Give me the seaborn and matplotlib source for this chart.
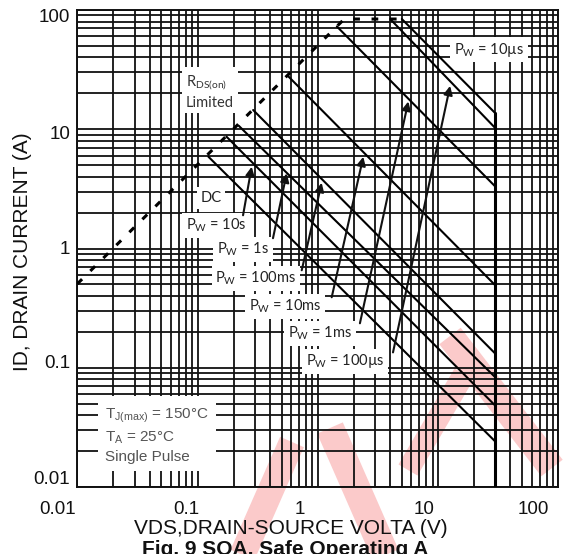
import matplotlib
matplotlib.use("Agg")
import pandas as pd
import matplotlib.pyplot as plt
import seaborn as sns
from matplotlib.lines import Line2D
from matplotlib.ticker import NullFormatter, LogLocator
from matplotlib.transforms import ScaledTranslation

# SOA curves: each starts on the RDS(on) / current limit and ends at VDS max
pw_labels = ["10µs", "100µs", "1ms", "10ms", "100ms", "1s", "10s", "DC"]
v_start = [5.0, 4.0, 1.44, 0.57, 0.29, 0.22, 0.174, 0.123]
i_start = [84, 84, 72.8, 27.7, 14.5, 10.7, 8.67, 5.89]
i_at_vmax = [13.6, 10.2, 3.3, 0.49, 0.131, 0.083, 0.048, 0.024]
vds_max = 30

# RDS(on) limited (dashed)
rds_v = [0.01, 1.66, 5.0]
rds_i = [0.505, 84, 84]

# label centres, arrow tails and arrow tips (V, A)
label_v = [26.5, 1.68, 1.043, 0.534, 0.306, 0.239, 0.142, 0.129]
label_i = [46.4, 0.113, 0.194, 0.327, 0.563, 0.987, 1.57, 2.65]
tail_v = [None, 4.22, 2.24, 1.305, 0.735, 0.424, 0.239, None]
tail_i = [None, 0.1345, 0.236, 0.390, 0.657, 1.22, 1.90, None]
tip_v = [None, 12.6, 5.66, 2.39, 1.077, 0.551, 0.282, None]
tip_i = [None, 23.1, 17.1, 5.88, 3.56, 4.27, 4.85, None]

x_ticks = [0.01, 0.1, 1, 10, 100]
x_ticklabels = ["0.01", "0.1", "1", "10", "100"]
y_ticks = [0.01, 0.1, 1, 10, 100]
y_ticklabels = ["0.01", "0.1", "1", "10", "100"]

sns.set_theme(style="white")
plt.rcParams["font.family"] = ["Liberation Sans", "DejaVu Sans"]
plt.rcParams["mathtext.fontset"] = "custom"

fig = plt.figure(figsize=(5.65, 5.54), dpi=100)
W, H = 565.0, 554.0

# watermark strokes behind the chart (figure pixels, y downwards)
wm = [((292, 442), (242, 556), 26), ((330, 428), (386, 556), 28),
      ((450, 336), (552, 468), 27), ((464, 374), (408, 470), 22)]
for (x0, y0), (x1, y1), w in wm:
    fig.add_artist(Line2D([x0 / W, x1 / W], [1 - y0 / H, 1 - y1 / H],
                          transform=fig.transFigure, color="#fbcaca",
                          lw=w * 0.72, solid_capstyle="butt", zorder=-5))

ax = fig.add_axes([77.3 / W, 1 - 487 / H, 481 / W, 477 / H])
ax.set_facecolor("none")
ax.set_xscale("log")
ax.set_yscale("log")
ax.set_xlim(0.01, 100)
ax.set_ylim(0.01, 100)

# dense log grid like the datasheet
ax.xaxis.set_minor_locator(LogLocator(base=10, subs=range(2, 10), numticks=20))
ax.yaxis.set_minor_locator(LogLocator(base=10, subs=range(2, 10), numticks=20))
ax.xaxis.set_minor_formatter(NullFormatter())
ax.yaxis.set_minor_formatter(NullFormatter())
ax.grid(True, which="both", color="#111111", lw=1.3)
ax.set_axisbelow(True)
for s in ax.spines.values():
    s.set_color("#111111")
    s.set_linewidth(1.4)

ax.set_xticks(x_ticks, labels=x_ticklabels)
ax.set_yticks(y_ticks, labels=y_ticklabels)
ax.tick_params(which="both", length=0, labelsize=13.5, colors="#111111")
ax.tick_params(axis="x", pad=10)
ax.tick_params(axis="y", pad=5)

# scanned labels sit a little off their grid lines
x_off = [-20, -11, -18, -14, -25]
for lab, dx in zip(ax.get_xticklabels(), x_off):
    lab.set_transform(lab.get_transform() + ScaledTranslation(dx / 100, 0, fig.dpi_scale_trans))
y_off = [10, 6, 1, -3, -5]
for lab, dy in zip(ax.get_yticklabels(), y_off):
    lab.set_transform(lab.get_transform() + ScaledTranslation(0, dy / 100, fig.dpi_scale_trans))

# curves
for k in range(len(pw_labels)):
    df = pd.DataFrame({"V": [v_start[k], vds_max], "I": [i_start[k], i_at_vmax[k]]})
    sns.lineplot(data=df, x="V", y="I", ax=ax, color="black", lw=1.5,
                 estimator=None, sort=False, zorder=3)

# VDS max boundary
bound = pd.DataFrame({"V": [vds_max, vds_max], "I": [max(i_at_vmax), 0.01]})
sns.lineplot(data=bound, x="V", y="I", ax=ax, color="black", lw=2.2,
             estimator=None, sort=False, zorder=3)

rds = pd.DataFrame({"V": rds_v, "I": rds_i})
sns.lineplot(data=rds, x="V", y="I", ax=ax, color="black", lw=2.2,
             linestyle=(0, (2.2, 3.8)), estimator=None, sort=False, zorder=3)

lab_font = ["Lato", "DejaVu Sans"]
box = dict(boxstyle="square,pad=0.25", fc="white", ec="none")
for k, name in enumerate(pw_labels):
    txt = "DC" if name == "DC" else "P$_\\mathregular{W}$ = " + name
    ax.text(label_v[k], label_i[k], txt, ha="center", va="center",
            fontsize=10.5, family=lab_font, color="#222222", bbox=box, zorder=4)
    if tail_v[k] is not None:
        ax.annotate("", xy=(tip_v[k], tip_i[k]), xytext=(tail_v[k], tail_i[k]),
                    arrowprops=dict(arrowstyle="-|>", color="#111111", lw=1.5,
                                    mutation_scale=13, shrinkA=0, shrinkB=0),
                    zorder=5)

ax.text(0.0801, 20.6, "R$_\\mathregular{DS(on)}$\nLimited", ha="left", va="center",
        fontsize=10.5, family=lab_font, color="#333333", linespacing=1.3,
        bbox=dict(boxstyle="square,pad=0.25", fc="white", ec="none"), zorder=4)

ax.text(0.017, 0.027, "T$_\\mathregular{J(max)}$ = 150°C\nT$_\\mathregular{A}$ = 25°C\nSingle Pulse",
        ha="left", va="center", fontsize=11, color="#555555", linespacing=1.35,
        bbox=dict(boxstyle="square,pad=0.45", fc="white", ec="none"), zorder=4)

ax.set_xlabel("VDS,DRAIN-SOURCE VOLTA (V)", fontsize=15, color="#111111")
ax.set_ylabel("ID, DRAIN CURRENT (A)", fontsize=15, color="#111111")
ax.xaxis.set_label_coords((291 - 77.3) / 481, (487 - 528) / 477)
ax.xaxis.label.set_va("center")
ax.yaxis.set_label_coords((22 - 77.3) / 481, (487 - 252) / 477)
ax.yaxis.label.set_va("center")

fig.text(285 / W, 1 - 540 / H, "Fig. 9 SOA, Safe Operating A", ha="center", va="top",
         fontsize=15, weight="bold", color="#111111")

fig.savefig("out.png", dpi=100)
